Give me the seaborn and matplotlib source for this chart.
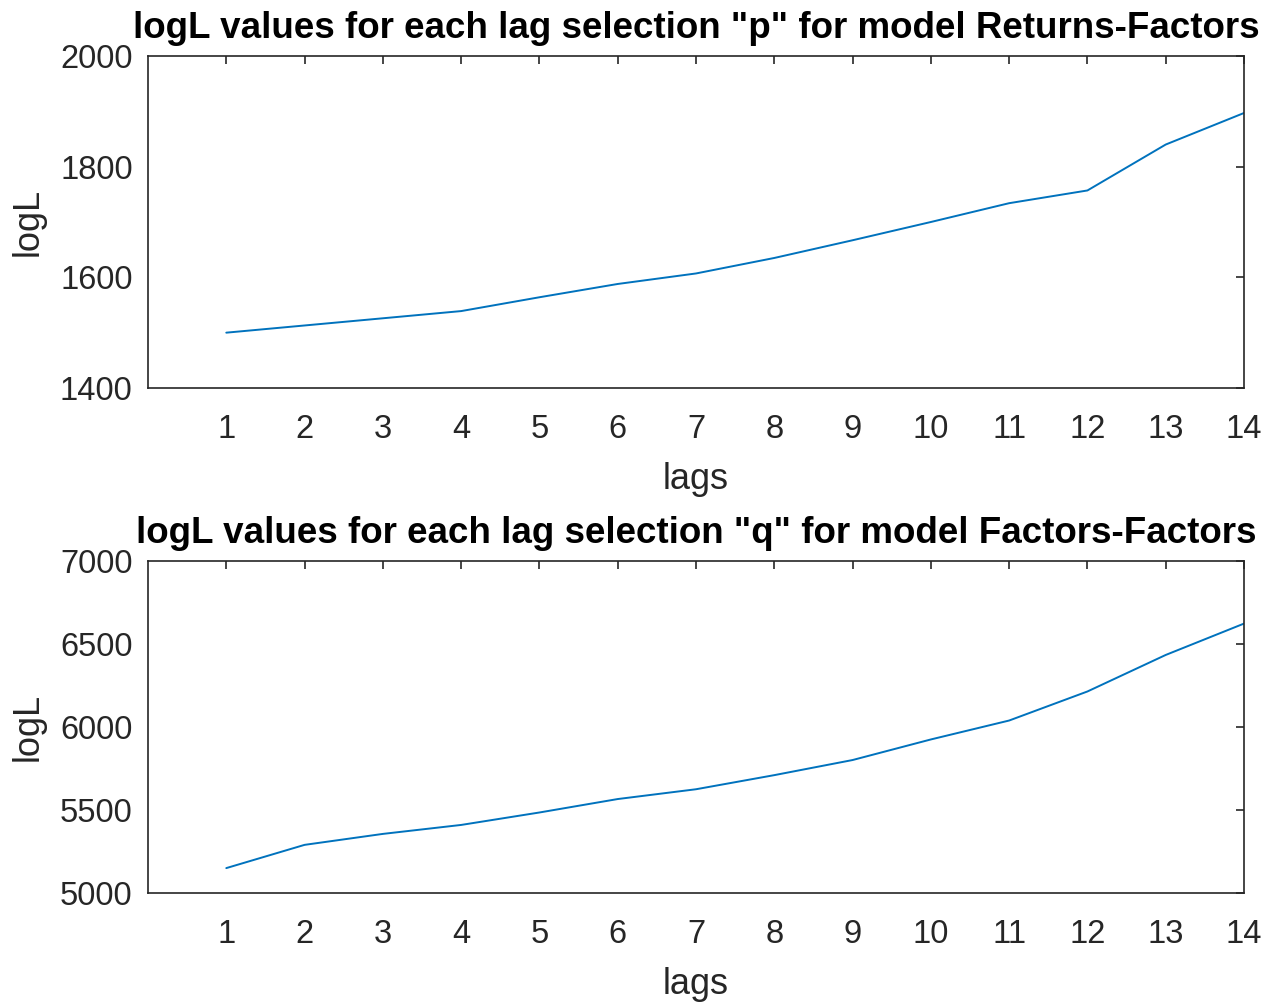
import matplotlib
matplotlib.use("Agg")
import matplotlib.pyplot as plt
import seaborn as sns
import pandas as pd

# Lag orders and log-likelihood values for the two models
lags = list(range(1, 15))
logl_returns_factors = [1500, 1513, 1526, 1539, 1564, 1588, 1607, 1635,
                        1667, 1700, 1734, 1757, 1840, 1897]
logl_factors_factors = [5150, 5290, 5356, 5410, 5485, 5566, 5625, 5710,
                        5801, 5925, 6039, 6214, 6434, 6623]

titles = ['logL values for each lag selection "p" for model Returns-Factors',
          'logL values for each lag selection "q" for model Factors-Factors']
y_ticks = [[1400, 1600, 1800, 2000], [5000, 5500, 6000, 6500, 7000]]
y_limits = [(1400, 2000), (5000, 7000)]

sns.set_style("white")
plt.rcParams["font.family"] = ["Liberation Sans", "DejaVu Sans"]

line_color = "#0072BD"
text_color = "#262626"
axis_color = "#262626"

fig = plt.figure(figsize=(12.87, 10.06), dpi=100)
left, width, height = 148 / 1287, (1244 - 148) / 1287, 332 / 1006
ax_top = fig.add_axes([left, 1 - 388 / 1006, width, height])
ax_bot = fig.add_axes([left, 1 - 893 / 1006, width, height])

series = [logl_returns_factors, logl_factors_factors]
for ax, vals, title, yt, yl in zip([ax_top, ax_bot], series, titles, y_ticks, y_limits):
    df = pd.DataFrame({"lags": lags, "logL": vals})
    sns.lineplot(data=df, x="lags", y="logL", ax=ax, color=line_color, linewidth=1.4)
    ax.set_xlim(0, 14)
    ax.set_ylim(*yl)
    ax.set_xticks(lags)
    ax.set_yticks(yt)
    ax.tick_params(direction="in", length=6, width=1.2, colors=axis_color,
                   labelcolor=text_color, labelsize=23.5, top=True, right=True)
    ax.tick_params(axis="x", pad=19)
    ax.tick_params(axis="y", pad=11)
    for sp in ax.spines.values():
        sp.set_visible(True)
        sp.set_color(axis_color)
        sp.set_linewidth(1.2)
    ax.set_xlabel("lags", fontsize=26, color=text_color, labelpad=12)
    ax.set_ylabel("logL", fontsize=26, color=text_color, labelpad=10)
    ax.set_title(title, fontsize=26.5, fontweight="bold", color="black", pad=13)

fig.savefig("out.png", dpi=100, facecolor="white")
